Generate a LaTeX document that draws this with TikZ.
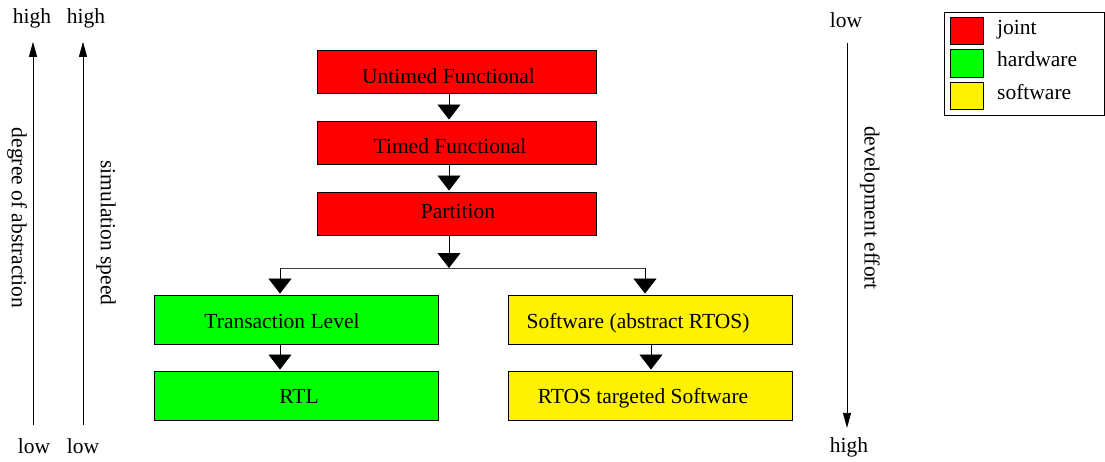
\documentclass[tikz,border=0pt]{standalone}
\usepackage{fontspec}
\setmainfont{Liberation Serif}
\usetikzlibrary{arrows.meta}
\begin{document}
\begin{tikzpicture}[x=1pt,y=-1pt,
  every node/.style={font=\fontsize{21.5}{24}\selectfont, inner sep=0pt},
  box/.style={draw=black, line width=0.9pt},
  jointbox/.style={box, fill=red, minimum width=279pt, minimum height=43pt},
  hwbox/.style={box, fill=green, minimum width=284pt, minimum height=49pt},
  swbox/.style={box, fill=yellow, minimum width=284pt, minimum height=49pt},
  flow/.style={-{Triangle[width=23pt,length=15pt]}, line width=0.8pt, black, shorten >=1pt},
  branch/.style={line width=0.8pt, black!75},
  axis/.style={-{Triangle[width=8pt,length=15pt]}, line width=0.8pt, black},
  swatch/.style={draw=black, line width=0.8pt, minimum width=33pt, minimum height=27pt},
  lbl/.style={anchor=base}
]
\useasboundingbox (0,0) rectangle (1105,461);

% boxes
\node[jointbox] (u) at (456.5,71.5) {};
\node[jointbox] (t) at (456.5,142.5) {};
\node[jointbox] (p) at (456.5,213.5) {};
\node[hwbox] (tl) at (296,319.5) {};
\node[hwbox] (rtl) at (296,395.5) {};
\node[swbox] (sw) at (650,319.5) {};
\node[swbox] (rs) at (650,395.5) {};

% box texts
\node[lbl] (ut) at (448.5,83) {Untimed Functional};
\node[lbl] (tt) at (450,153) {Timed Functional};
\node[lbl] (pt) at (458,218) {Partition};
\node[lbl] (tlt) at (282,328) {Transaction Level};
\node[lbl] (rtlt) at (299,403) {RTL};
\node[lbl] (swt) at (638,328) {Software (abstract RTOS)};
\node[lbl] (rst) at (643,403) {RTOS targeted Software};

% flow connectors
\draw[flow] ([xshift=-7.5pt]u.south) -- ([xshift=-7.5pt]t.north);
\draw[flow] ([xshift=-7.5pt]t.south) -- ([xshift=-7.5pt]p.north);
\coordinate (fork) at (449,268);
\coordinate (forkL) at (280,268);
\coordinate (forkR) at (645,268);
\draw[flow, shorten >=0pt] ([xshift=-7.5pt]p.south) -- (fork);
\draw[branch] (forkL) -- (forkR);
\draw[flow] (forkL) -- (forkL |- tl.north);
\draw[flow] (forkR) -- (forkR |- sw.north);
\draw[flow] ([xshift=-16pt]tl.south) -- ([xshift=-16pt]rtl.north);
\draw[flow] ([xshift=1pt]sw.south) -- ([xshift=1pt]rs.north);

% left axes
\node[lbl] (hA) at (32,23) {high};
\node[lbl] (lA) at (34,453) {low};
\node[lbl] (hB) at (86,23) {high};
\node[lbl] (lB) at (83,453) {low};
\draw[axis, shorten <=13pt, shorten >=14pt] ([xshift=-1pt]lA.north) -- ([xshift=-1pt]lA.north |- hA.south);
\draw[axis, shorten <=13pt, shorten >=14pt] (lB.north) -- (lB.north |- hB.south);
\node[rotate=-90] (dA) at (17,218) {degree of abstraction};
\node[rotate=-90] (sB) at (106,233) {simulation speed};

% right axis
\node[lbl] (lC) at (846,27) {low};
\node[lbl] (hC) at (849,452) {high};
\draw[axis, shorten <=16pt, shorten >=9pt] ([xshift=1pt]lC.south) -- ([xshift=1pt]lC.south |- hC.north);
\node[rotate=-90] (dC) at (870,208) {development effort};

% legend
\node[draw=black, line width=0.8pt, minimum width=160pt, minimum height=103pt] (legend) at (1024,63.5) {};
\node[swatch, fill=red] (sj) at (966.5,30.5) {};
\node[swatch, fill=green, minimum height=28pt] (sh) at (966.5,63) {};
\node[swatch, fill=yellow] (ss) at (966.5,95.5) {};
\node[anchor=base west] (lj) at (997,34) {joint};
\node[anchor=base west] (lh) at (997,66) {hardware};
\node[anchor=base west] (ls) at (997,99) {software};
\end{tikzpicture}
\end{document}
